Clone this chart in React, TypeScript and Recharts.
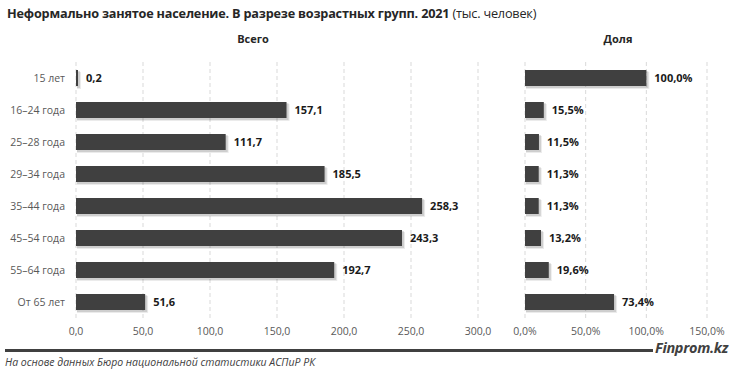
import React from 'react';
import { BarChart, Bar, XAxis, YAxis, CartesianGrid, LabelList } from 'recharts';

const categories = ['15 лет', '16–24 года', '25–28 года', '29–34 года', '35–44 года', '45–54 года', '55–64 года', 'От 65 лет'];
const totalValues = [0.2, 157.1, 111.7, 185.5, 258.3, 243.3, 192.7, 51.6];
const shareValues = [100.0, 15.5, 11.5, 11.3, 11.3, 13.2, 19.6, 73.4];
const totalTicks = [0, 50, 100, 150, 200, 250, 300];
const shareTicks = [0, 50, 100, 150];

const data = categories.map((c, i) => ({ name: c, total: totalValues[i], share: shareValues[i] }));

const FONT = '"Open Sans", "Noto Sans", sans-serif';
const BAR = '#404040';

const fmt = (v: number) => v.toFixed(1).replace('.', ',');
const fmtPct = (v: number) => v.toFixed(1).replace('.', ',') + '%';

const tickStyle = { fontSize: 10.5, fill: '#595959', fontFamily: FONT };
const labelStyle = { fontSize: 11, fill: '#1a1a1a', fontWeight: 700, fontFamily: FONT };

const ShadowBar = (props: any) => {
  const x = Number(props.x);
  const y = Number(props.y);
  const w = Math.max(Number(props.width) || 0, 0);
  const h = Math.max(Number(props.height) || 0, 0);
  return (
    <g>
      <rect x={x + 1} y={y + 2} width={w + 2} height={h + 1} fill="rgba(0,0,0,0.08)" />
      <rect x={x + 1} y={y + 1} width={w + 1} height={h + 1} fill="rgba(0,0,0,0.12)" />
      <rect x={x} y={y} width={w} height={h} fill={BAR} />
    </g>
  );
};

export default function App() {
  return (
    <div style={{ position: 'absolute', left: 0, top: 0, width: 731, height: 373, background: '#fff', fontFamily: FONT }}>
      <div style={{ position: 'absolute', left: 7, top: 4, fontSize: 12.7, color: '#262626', whiteSpace: 'nowrap', letterSpacing: -0.2 }}>
        <span style={{ fontWeight: 700 }}>Неформально занятое население. В разрезе возрастных групп. 2021</span>{' '}
        <span>(тыс. человек)</span>
      </div>
      <div style={{ position: 'absolute', left: 203, width: 100, top: 31, textAlign: 'center', fontSize: 11, fontWeight: 700, color: '#262626' }}>Всего</div>
      <div style={{ position: 'absolute', left: 568, width: 100, top: 31, textAlign: 'center', fontSize: 11, fontWeight: 700, color: '#262626' }}>Доля</div>

      <div style={{ position: 'absolute', left: 0, top: 0 }}>
        <BarChart
          width={500}
          height={373}
          data={data}
          layout="vertical"
          margin={{ top: 62, right: 22, bottom: 25, left: 0 }}
          barSize={16}
        >
          <CartesianGrid horizontal={false} stroke="#d9d9d9" strokeDasharray="4 3" />
          <XAxis
            type="number"
            domain={[0, 300]}
            ticks={totalTicks}
            tickFormatter={fmt}
            axisLine={false}
            tickLine={false}
            tick={tickStyle}
            height={30}
            tickMargin={4}
            interval={0}
          />
          <YAxis
            type="category"
            dataKey="name"
            width={76}
            axisLine={false}
            tickLine={false}
            tickSize={0}
            tickMargin={11}
            tick={tickStyle}
            interval={0}
          />
          <Bar dataKey="total" fill={BAR} isAnimationActive={false} minPointSize={2} barSize={16} shape={ShadowBar}>
            <LabelList dataKey="total" position="right" offset={8} formatter={(v: any) => fmt(Number(v))} style={labelStyle} />
          </Bar>
        </BarChart>
      </div>

      <div style={{ position: 'absolute', left: 500, top: 0 }}>
        <BarChart
          width={231}
          height={373}
          data={data}
          layout="vertical"
          margin={{ top: 62, right: 24, bottom: 25, left: 25 }}
          barSize={16}
        >
          <CartesianGrid horizontal={false} stroke="#d9d9d9" strokeDasharray="4 3" />
          <XAxis
            type="number"
            domain={[0, 150]}
            ticks={shareTicks}
            tickFormatter={fmtPct}
            axisLine={false}
            tickLine={false}
            tick={tickStyle}
            height={30}
            tickMargin={4}
            interval={0}
          />
          <YAxis type="category" dataKey="name" hide />
          <Bar dataKey="share" fill={BAR} isAnimationActive={false} barSize={16} shape={ShadowBar}>
            <LabelList dataKey="share" position="right" offset={8} formatter={(v: any) => fmtPct(Number(v))} style={labelStyle} />
          </Bar>
        </BarChart>
      </div>

      <div style={{ position: 'absolute', left: 5, top: 349, width: 648, height: 3, background: '#404040' }} />
      <div style={{ position: 'absolute', left: 655, top: 338, fontSize: 14.5, fontWeight: 700, fontStyle: 'italic', color: '#404040', letterSpacing: -0.3 }}>Finprom.kz</div>
      <div style={{ position: 'absolute', left: 5, top: 355, fontSize: 10.5, fontStyle: 'italic', color: '#404040' }}>На основе данных Бюро национальной статистики АСПиР РК</div>
    </div>
  );
}
